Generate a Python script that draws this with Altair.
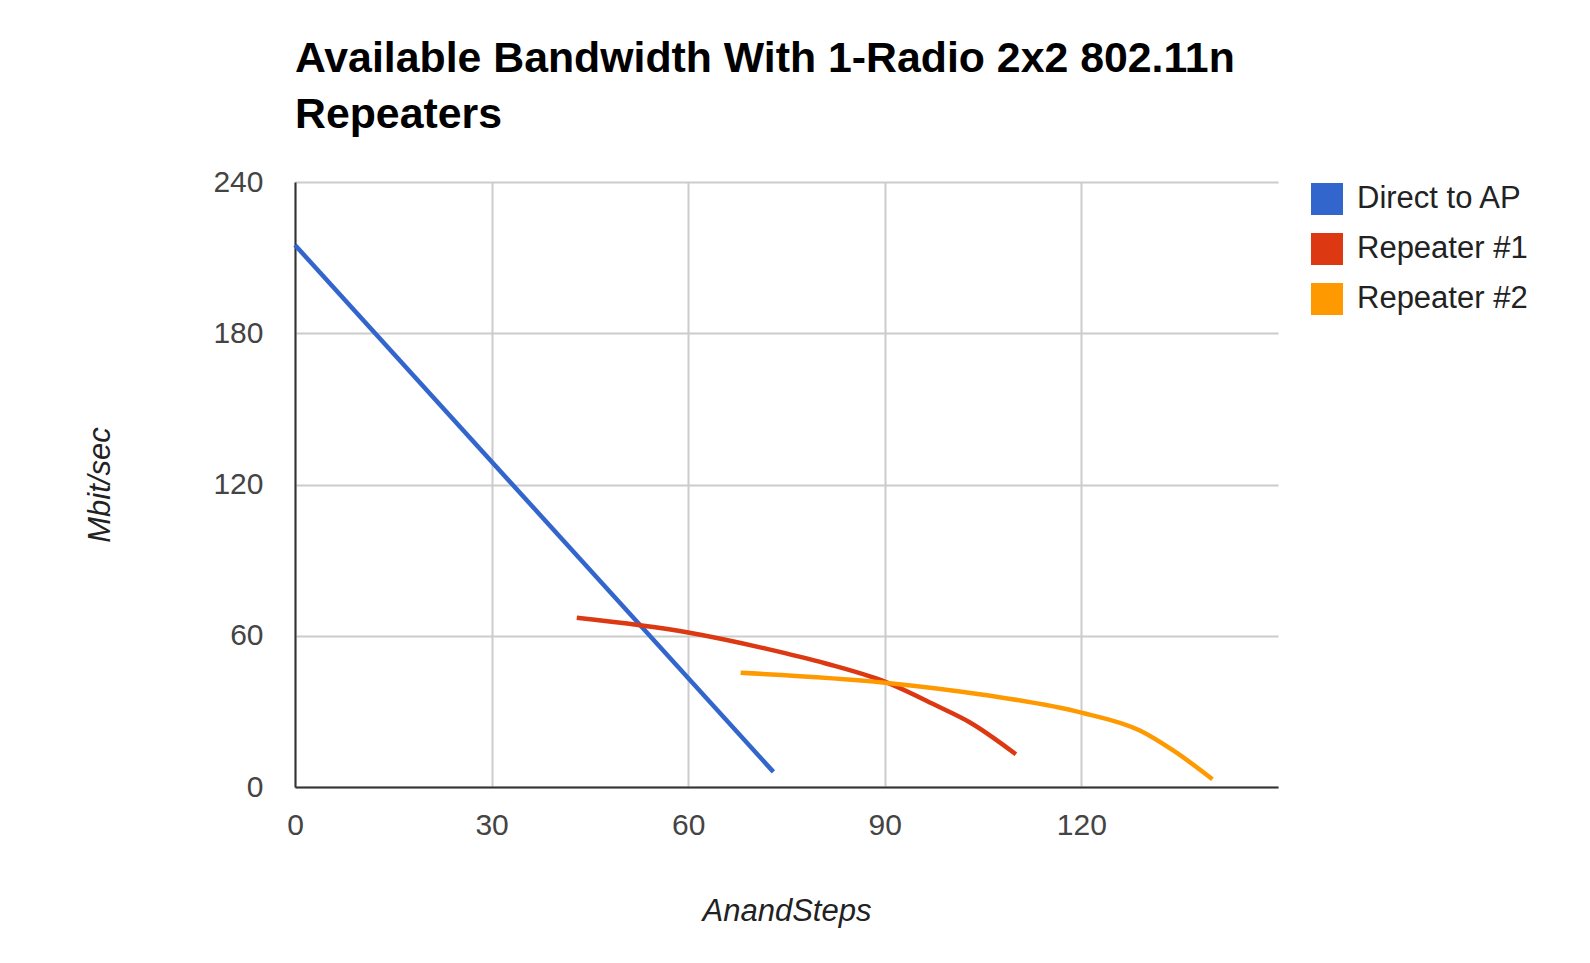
import altair as alt
import pandas as pd

series_names = ["Direct to AP", "Repeater #1", "Repeater #2"]
series_colors = ["#3366cc", "#dc3912", "#ff9900"]

direct_x = [0, 73]
direct_y = [215, 6]

rep1_x = [43, 60, 72, 81, 90, 98, 103, 110]
rep1_y = [67.1, 61.3, 54.8, 49.0, 41.8, 32.1, 25.6, 13.0]

rep2_x = [68, 90, 105, 120, 129, 134, 140]
rep2_y = [45.3, 41.4, 36.6, 29.5, 22.3, 14.5, 3.1]

x_ticks = [0, 30, 60, 90, 120]
y_ticks = [0, 60, 120, 180, 240]

rows = []
for name, xs, ys in zip(series_names, [direct_x, rep1_x, rep2_x], [direct_y, rep1_y, rep2_y]):
    for xv, yv in zip(xs, ys):
        rows.append({"series": name, "steps": xv, "mbit": yv})
df = pd.DataFrame(rows)

FONT = "Liberation Sans, Arial, sans-serif"

chart = alt.Chart(df).mark_line(strokeWidth=4.5, interpolate="monotone").encode(
    x=alt.X("steps:Q",
            scale=alt.Scale(domain=[0, 150], nice=False),
            axis=alt.Axis(values=x_ticks, title="AnandSteps", labelPadding=23,
                          labelFlush=False, titleY=109, titleBaseline="top")),
    y=alt.Y("mbit:Q",
            scale=alt.Scale(domain=[0, 240], nice=False),
            axis=alt.Axis(values=y_ticks, title="Mbit/sec", labelPadding=32,
                          labelFlush=False, titleX=-195, titleBaseline="middle")),
    color=alt.Color("series:N",
                    scale=alt.Scale(domain=series_names, range=series_colors),
                    legend=alt.Legend(title=None, orient="none", legendX=1016, legendY=0,
                                      symbolType="square", symbolSize=16, symbolStrokeWidth=28,
                                      labelFontSize=31, labelFont=FONT, labelColor="#222",
                                      labelLimit=400, labelOffset=14, clipHeight=34,
                                      rowPadding=16)),
).properties(
    width=983,
    height=605,
    title=alt.Title(text=["Available Bandwidth With 1-Radio 2x2 802.11n", "Repeaters"],
                    anchor="start", frame="group", font=FONT, fontSize=42.8, fontWeight="bold",
                    color="#000", lineHeight=56, offset=30),
    autosize=alt.AutoSizeParams(type="none"),
    padding={"left": 287, "top": 174, "right": 290, "bottom": 160},
).configure_view(stroke=None).configure_axis(
    domainColor="#333", domainWidth=2, gridColor="#cccccc", gridWidth=2,
    ticks=False, labelFont=FONT, labelFontSize=30, labelColor="#444",
    titleFont=FONT, titleFontSize=31, titleFontStyle="italic", titleFontWeight="normal",
    titleColor="#222",
)

chart.save("out.html", embed_options={"renderer": "svg", "actions": False})
